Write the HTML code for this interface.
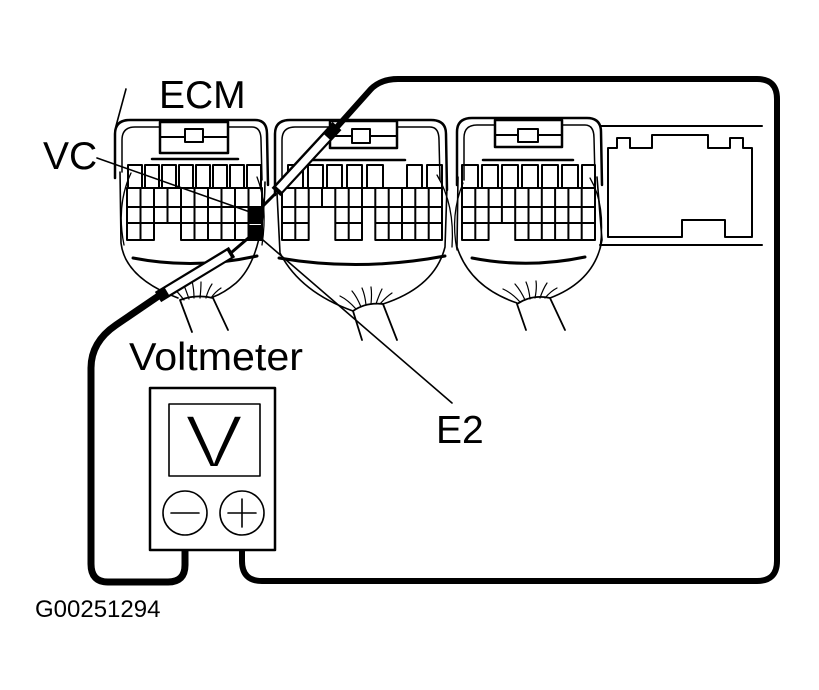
<!DOCTYPE html>
<html><head><meta charset="utf-8"><style>
html,body{margin:0;padding:0;background:#fff;}
svg{display:block;}
text{font-family:"Liberation Sans",Arial,sans-serif;fill:#000;}
</style></head><body>
<svg width="819" height="690" viewBox="0 0 819 690" xmlns="http://www.w3.org/2000/svg">
<rect width="819" height="690" fill="#fff"/>
<g fill="none" stroke="#000" stroke-linejoin="round" stroke-linecap="round">

<!-- ===== Connector 1 ===== -->
<path d="M115,178 L115,134 Q115,120 130,120 L255,120 Q267,120 267,134 L268,185" stroke-width="2.5"/>
<path d="M122,172 L122,140 Q122,127 135,127 L160,127 M228,127 L252,127 Q261,127 261,140 L262,180" stroke-width="1.5"/>
<rect x="160" y="122" width="68" height="31" stroke-width="2.5" fill="#fff"/>
<line x1="160" y1="137" x2="228" y2="137" stroke-width="2"/>
<rect x="185" y="129" width="18" height="13" stroke-width="2" fill="#fff"/>
<line x1="152" y1="159" x2="238" y2="159" stroke-width="2.5"/>
<path d="M128,188 V165 H142 V188 M145,188 V165 H159 V188 M162,188 V165 H176 V188 M179,188 V165 H193 V188 M196,188 V165 H210 V188 M213,188 V165 H227 V188 M230,188 V165 H244 V188 M247,188 V165 H261 V188" stroke-width="2"/>
<path d="M127,188 H262 M127,207 H262 M127,223 H262 M127,240 H154 M181,240 H262
M127,188 V240 M140.5,188 V240 M154,188 V240 M167.5,188 V223 M181,188 V240 M194.5,188 V240 M208,188 V240 M221.5,188 V240 M235,188 V240 M248.5,188 V240 M262,188 V240" stroke-width="2"/>
<rect x="248" y="207" width="14" height="15" fill="#000" stroke="none"/>
<rect x="248" y="225" width="14" height="14" fill="#000" stroke="none"/>
<path d="M120,172 L121,243 Q125,278 178,298" stroke-width="1.6"/>
<path d="M265,182 Q264,258 236,283 Q224,293 213,297" stroke-width="1.6"/>
<path d="M131,173 Q116,205 124,245" stroke-width="1.3"/>
<path d="M257,177 Q268,205 262,245" stroke-width="1.3"/>
<path d="M133,258 Q195,270 257,256" stroke-width="3"/>
<path d="M180,300 L192,332 M213,298 L228,330 M180,300 Q196,294 213,298" stroke-width="1.8"/>
<path d="M184,300 Q178,292 172,287 M189,299 Q186,290 183,283 M194,298 Q194,289 192,281 M200,298 Q201,289 201,282 M206,298 Q208,290 212,284 M211,298 Q215,292 221,288" stroke-width="1.2"/>

<!-- ===== Connector 2 ===== -->
<path d="M275,195 L275,134 Q275,120 290,120 L431,120 Q446,120 446,134 L447,190" stroke-width="2.5"/>
<path d="M282,190 L282,140 Q282,127 295,127 L330,127 M397,127 L430,127 Q439,127 439,140 L440,180" stroke-width="1.5"/>
<rect x="330" y="121" width="67" height="27" stroke-width="2.5" fill="#fff"/>
<line x1="330" y1="136" x2="397" y2="136" stroke-width="2"/>
<rect x="352" y="129" width="18" height="14" stroke-width="2" fill="#fff"/>
<line x1="313" y1="160" x2="405" y2="160" stroke-width="2.5"/>
<path d="M288,188 V165 H303 V188 M308,188 V165 H323 V188 M327,188 V165 H342 V188 M347,188 V165 H362 V188 M367,188 V165 H383 V188 M407,188 V165 H422 V188 M427,188 V165 H442 V188" stroke-width="2"/>
<path d="M282,188 H442 M282,207 H442 M282,223 H308.7 M335.3,223 H362 M375.3,223 H442 M282,240 H308.7 M335.3,240 H362 M375.3,240 H442
M282,188 V240 M295.3,188 V240 M308.7,188 V240 M322,188 V207 M335.3,188 V240 M348.7,188 V240 M362,188 V240 M375.3,188 V240 M388.7,188 V240 M402,188 V240 M415.3,188 V240 M428.7,188 V240 M442,188 V240" stroke-width="2"/>
<path d="M277,193 L280,253 Q300,292 353,311" stroke-width="1.6"/>
<path d="M447,187 L445,247 Q435,287 383,304" stroke-width="1.6"/>
<path d="M437,175 Q455,205 452,247" stroke-width="1.3"/>
<path d="M279,258 Q360,272 445,256" stroke-width="3"/>
<path d="M353,311 L362,340 M383,304 L397,340 M353,311 Q366,302 383,304" stroke-width="1.8"/>
<path d="M356,309 Q348,300 340,296 M361,307 Q357,297 352,291 M366,305 Q365,295 362,288 M371,304 Q372,294 371,287 M376,304 Q379,295 382,289 M380,304 Q386,297 392,293" stroke-width="1.2"/>

<!-- ===== Connector 3 ===== -->
<path d="M457,185 L457,132 Q457,118 472,118 L587,118 Q601,118 601,132 L602,185" stroke-width="2.5"/>
<path d="M464,180 L464,138 Q464,125 477,125 L495,125 M562,125 L585,125 Q594,125 594,138 L595,178" stroke-width="1.5"/>
<rect x="495" y="120" width="67" height="27" stroke-width="2.5" fill="#fff"/>
<line x1="495" y1="135" x2="562" y2="135" stroke-width="2"/>
<rect x="518" y="129" width="20" height="13" stroke-width="2" fill="#fff"/>
<line x1="483" y1="160" x2="573" y2="160" stroke-width="2.5"/>
<path d="M462,188 V165 H478 V188 M482,188 V165 H498 V188 M502,188 V165 H518 V188 M522,188 V165 H538 V188 M542,188 V165 H558 V188 M562,188 V165 H578 V188 M582,188 V165 H595 V188" stroke-width="2"/>
<path d="M462,188 H595 M462,207 H595 M462,223 H595 M462,240 H488.6 M515.2,240 H595
M462,188 V240 M475.3,188 V240 M488.6,188 V240 M501.9,188 V223 M515.2,188 V240 M528.5,188 V240 M541.8,188 V240 M555.1,188 V240 M568.4,188 V240 M581.7,188 V240 M595,188 V240" stroke-width="2"/>
<path d="M458,177 L457,247 Q470,287 517,303" stroke-width="1.6"/>
<path d="M597,177 L602,240 Q595,281 550,298" stroke-width="1.6"/>
<path d="M463,183 Q450,215 457,250" stroke-width="1.3"/>
<path d="M590,178 Q606,205 600,248" stroke-width="1.3"/>
<path d="M472,258 Q528,269 585,257" stroke-width="3"/>
<path d="M517,304 L526,330 M550,298 L565,330 M517,304 Q532,294 550,298" stroke-width="1.8"/>
<path d="M520,302 Q512,293 503,289 M525,300 Q521,291 515,284 M530,299 Q529,289 526,282 M535,298 Q537,288 536,281 M540,298 Q543,289 547,283 M545,298 Q551,291 557,288" stroke-width="1.2"/>

<!-- ===== Right box ===== -->
<path d="M600,126 H762 M600,245 H762" stroke-width="2"/>
<path d="M608,237 L608,148 L617,148 L617,138 L630,138 L630,148 L652,148 L652,135 L708,135 L708,148 L730,148 L730,138 L743,138 L743,148 L752,148 L752,237 L725,237 L725,220 L682,220 L682,237 Z" stroke-width="2"/>

<!-- ===== Leaders ===== -->
<line x1="126" y1="89" x2="116" y2="126" stroke-width="1.6"/>
<line x1="97" y1="158" x2="250" y2="212" stroke-width="1.6"/>
<line x1="256" y1="234" x2="452" y2="403" stroke-width="1.6"/>

<!-- ===== Main wire (VC probe -> + terminal) ===== -->
<path d="M337,127 L371,89 Q381,79 398,79 L757,79 Q777,79 777,99 L777,561 Q777,581 757,581 L262,581 Q242,581 242,561 L242,550" stroke-width="6" stroke-linecap="butt"/>
<line x1="276" y1="192" x2="337" y2="126" stroke-width="12" stroke-linecap="butt"/>
<line x1="279" y1="189" x2="327" y2="137" stroke="#fff" stroke-width="7.5" stroke-linecap="butt"/>
<line x1="275" y1="194" x2="255" y2="214" stroke-width="3"/>

<!-- ===== Left wire (E2 probe -> - terminal) ===== -->
<path d="M160,295 L116,325 Q91,342 91,368 L91,564 Q91,582 108,582 L168,582 Q185,582 185,565 L185,550" stroke-width="7" stroke-linecap="butt"/>
<line x1="158" y1="297" x2="232" y2="252" stroke-width="12" stroke-linecap="butt"/>
<line x1="167" y1="291.5" x2="229" y2="254" stroke="#fff" stroke-width="7.5" stroke-linecap="butt"/>
<line x1="232" y1="252" x2="253" y2="234" stroke-width="3"/>

<!-- ===== Voltmeter ===== -->
<rect x="150" y="388" width="125" height="162" stroke-width="2.5" fill="#fff"/>
<rect x="169" y="404" width="91" height="72" stroke-width="1.6"/>
<circle cx="185" cy="513" r="22" stroke-width="1.6"/>
<circle cx="242" cy="513" r="22" stroke-width="1.6"/>
<line x1="171" y1="513" x2="199" y2="513" stroke-width="1.6"/>
<line x1="228" y1="513" x2="256" y2="513" stroke-width="1.6"/>
<line x1="242" y1="499" x2="242" y2="527" stroke-width="1.6"/>
</g>

<!-- ===== Text ===== -->
<text x="185" y="467" font-size="74" textLength="58" lengthAdjust="spacingAndGlyphs" stroke="#fff" stroke-width="2">V</text>
<text x="159" y="108" font-size="39">ECM</text>
<text x="43" y="169" font-size="39">VC</text>
<text x="129" y="370" font-size="39" textLength="174" lengthAdjust="spacingAndGlyphs">Voltmeter</text>
<text x="436" y="443" font-size="39">E2</text>
<text x="35" y="617" font-size="24">G00251294</text>
</svg>
</body></html>
